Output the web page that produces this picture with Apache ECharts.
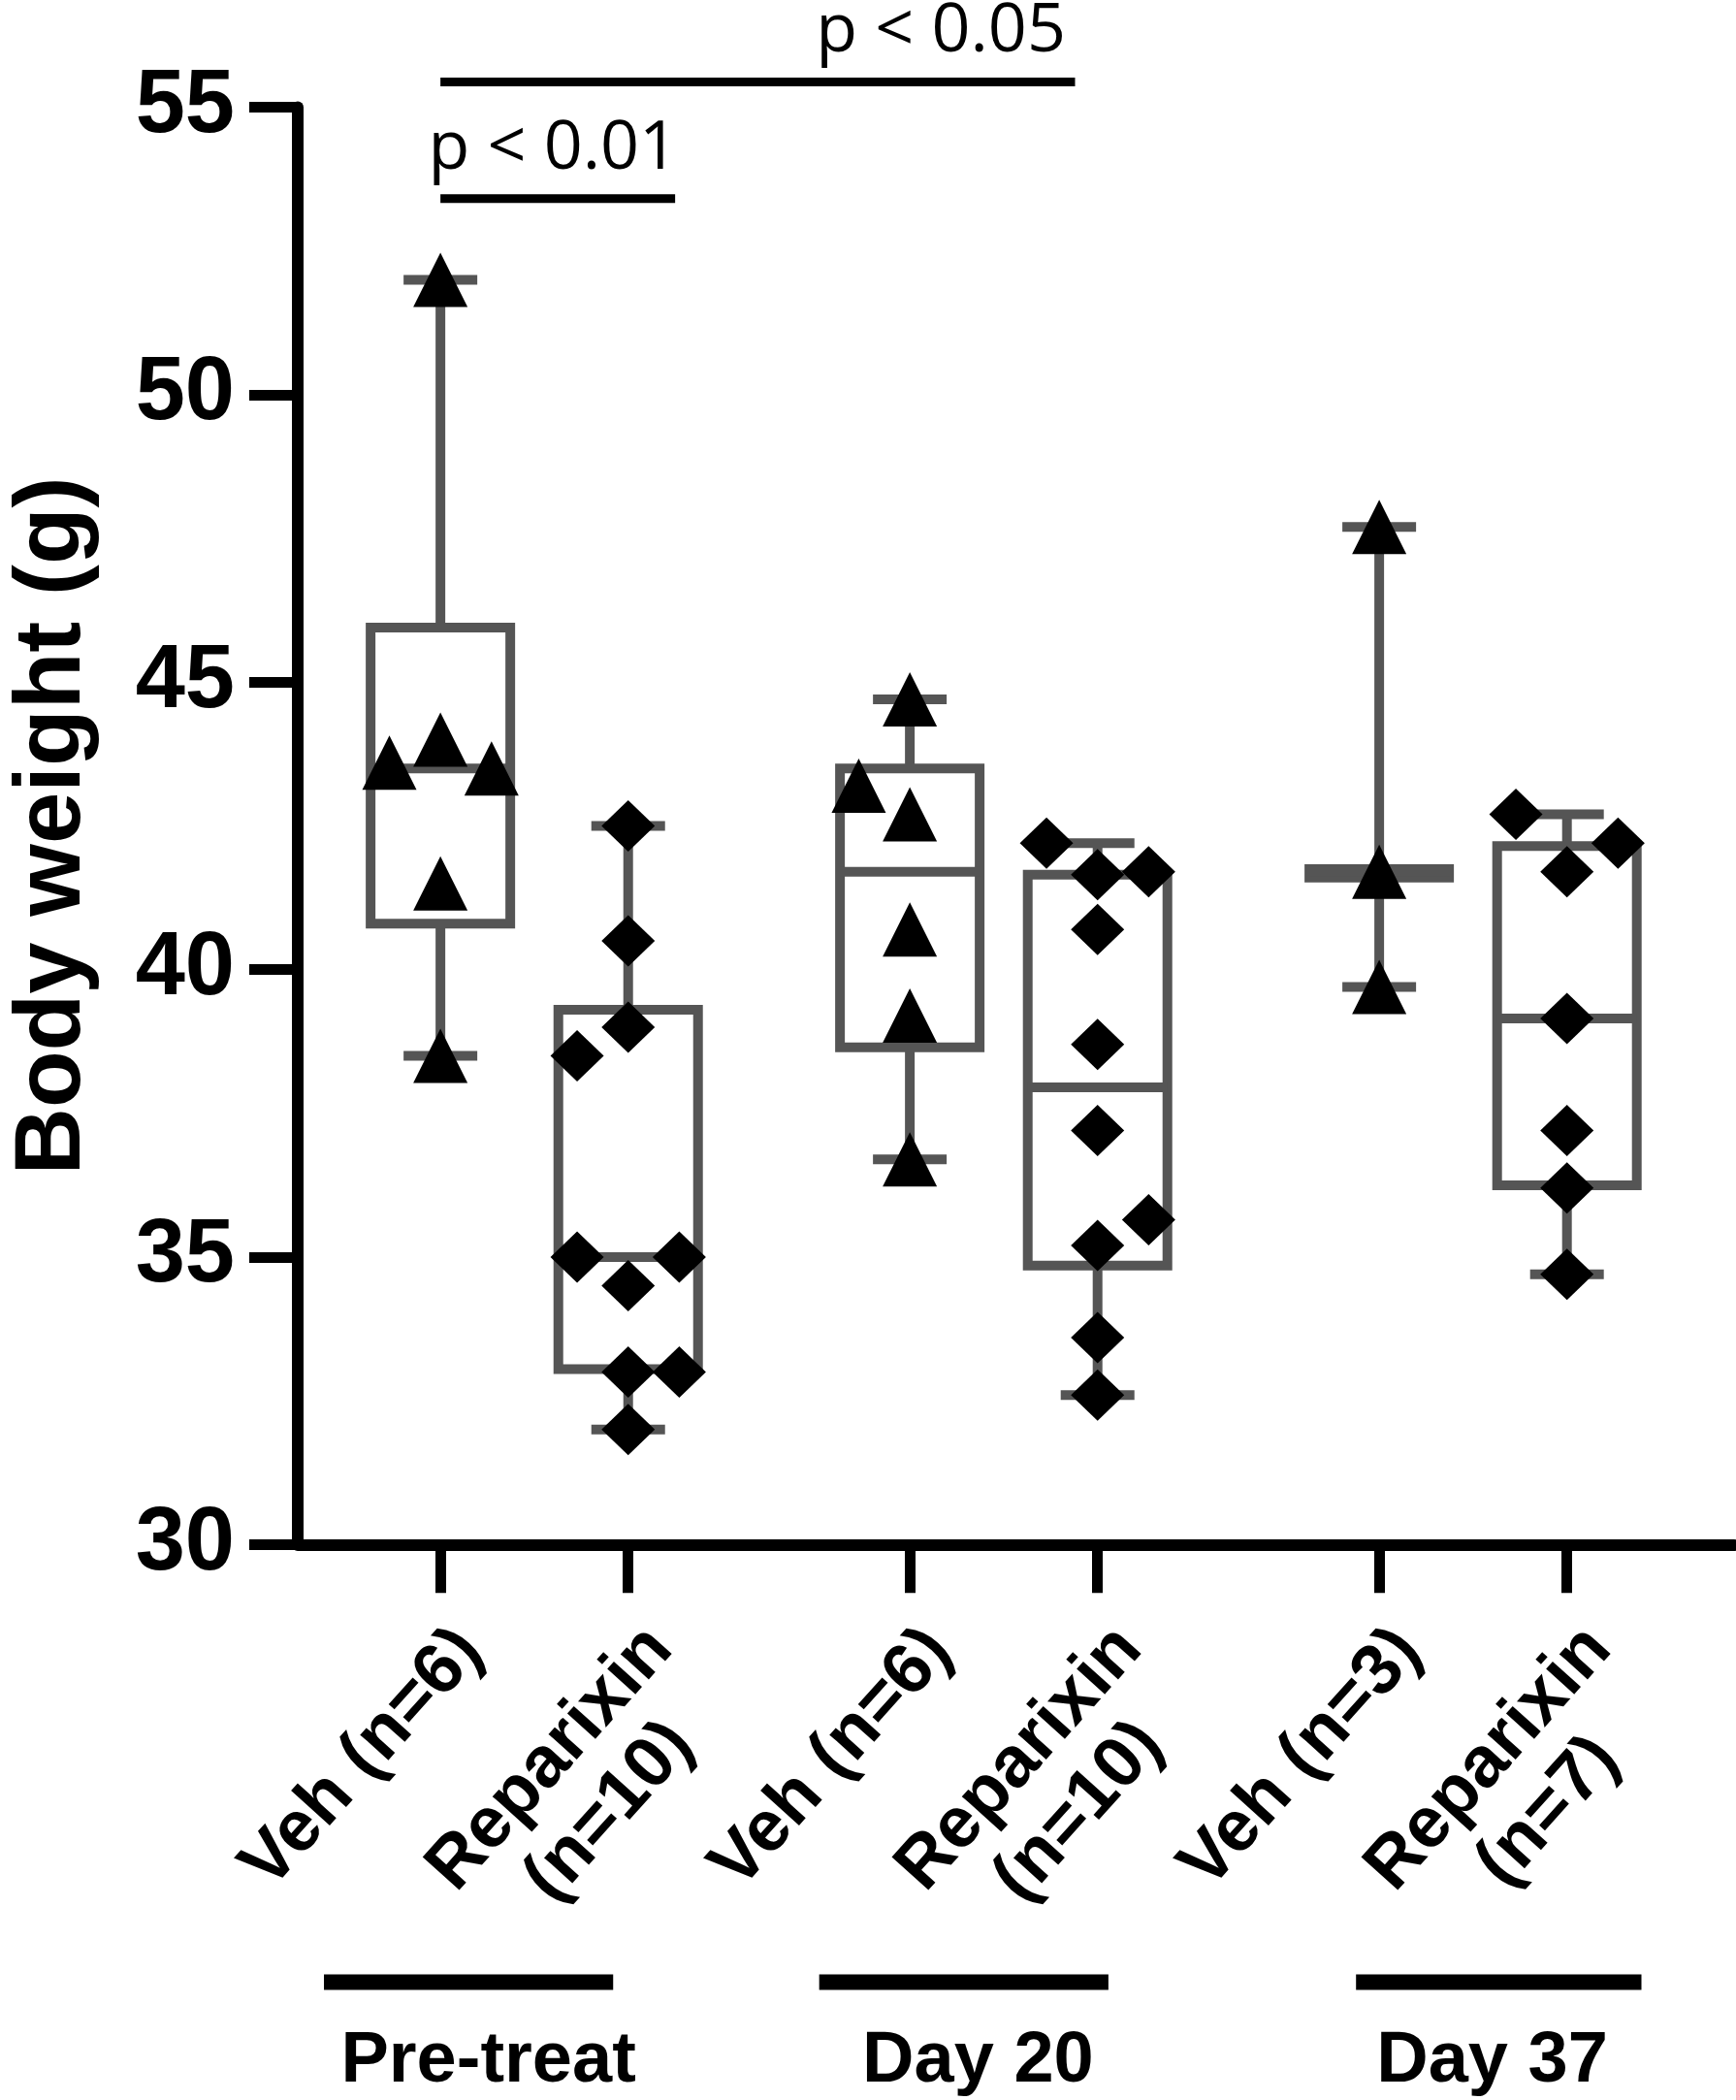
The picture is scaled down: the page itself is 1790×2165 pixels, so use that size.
<!DOCTYPE html>
<html>
<head>
<meta charset="utf-8">
<script src="https://cdn.jsdelivr.net/npm/echarts@6/dist/echarts.min.js"></script>
<style>
  html, body { margin: 0; padding: 0; background: #fff; }
  #chart { width: 1790px; height: 2165px; }
</style>
</head>
<body>
<div id="chart"></div>
<script>
// x position of each column (gaps between the three time points)
const positions = [0, 1, 2.5, 3.5, 5, 6];
const columnLabels = ['Veh (n=6)', 'Reparixin\n(n=10)', 'Veh (n=6)', 'Reparixin\n(n=10)', 'Veh (n=3)', 'Reparixin\n(n=7)'];
const yTicks = [30, 35, 40, 45, 50, 55];

// box & whisker (min..max, quartiles)
const boxLow    = [38.5, 32.0, 36.7, 32.6, 39.7, 34.7];
const boxQ1     = [40.8, 33.05, 38.65, 34.85, 41.6, 36.25];
const boxMedian = [43.5, 35.0, 41.7, 37.95, 41.7, 39.15];
const boxQ3     = [45.95, 39.3, 43.5, 41.65, 41.75, 42.15];
const boxHigh   = [52.0, 42.5, 44.7, 42.2, 47.7, 42.7];

// individual animals; side = -1 left / 0 centre / 1 right of column
const vehPre = [52.0, 44.0, 43.6, 43.5, 41.5, 38.5];
const vehPreSide = [0, 0, -1, 1, 0, 0];
const repPre = [42.5, 40.5, 39.0, 38.5, 35.0, 35.0, 34.5, 33.0, 33.0, 32.0];
const repPreSide = [0, 0, 0, -1, -1, 1, 0, 0, 1, 0];
const vehD20 = [44.7, 43.2, 42.7, 40.7, 39.2, 36.7];
const vehD20Side = [0, -1, 0, 0, 0, 0];
const repD20 = [42.2, 41.65, 41.7, 40.7, 38.7, 37.2, 35.65, 35.2, 33.6, 32.6];
const repD20Side = [-1, 0, 1, 0, 0, 0, 1, 0, 0, 0];
const vehD37 = [47.7, 41.7, 39.7];
const vehD37Side = [0, 0, 0];
const repD37 = [42.7, 42.2, 41.7, 39.15, 37.2, 36.2, 34.7];
const repD37Side = [-1, 1, 0, 0, 0, 0, 0];

// significance brackets
const sigText = ['p < 0.01', 'p < 0.05'];
const sigFrom = [0, 0];
const sigTo = [1.25, 3.38];
const sigLevel = [53.41, 55.44];
const sigTextX = [0.6, 2.665];

// time point groups under the axis
const groupNames = ['Pre-treat', 'Day 20', 'Day 37'];
const groupBarFrom = [-0.57, 2.05, 4.89];
const groupBarTo = [0.96, 3.58, 6.4];
const groupTextX = [0.3, 2.89, 5.61];

const X_MIN = -0.76, X_MAX = 6.89;
const SPREAD = 0.272;
const GREY = '#555';

const pts = (vals, side, col) => vals.map((v, i) => [positions[col] + side[i] * SPREAD, v]);

const boxData = positions.map((p, i) => [p, boxLow[i], boxQ1[i], boxMedian[i], boxQ3[i], boxHigh[i]]);

function renderBox(params, api) {
  const x = api.value(0);
  const lo = api.coord([x, api.value(1)]);
  const q1 = api.coord([x, api.value(2)]);
  const md = api.coord([x, api.value(3)]);
  const q3 = api.coord([x, api.value(4)]);
  const hi = api.coord([x, api.value(5)]);
  const half = 72, cap = 38;
  const st = { stroke: GREY, lineWidth: 10, fill: 'none' };
  const ln = (x1, y1, x2, y2) => ({ type: 'line', shape: { x1, y1, x2, y2 }, style: st });
  return {
    type: 'group',
    children: [
      ln(hi[0], hi[1], q3[0], q3[1]),
      ln(lo[0], lo[1], q1[0], q1[1]),
      ln(hi[0] - cap, hi[1], hi[0] + cap, hi[1]),
      ln(lo[0] - cap, lo[1], lo[0] + cap, lo[1]),
      { type: 'rect', shape: { x: q3[0] - half, y: q3[1], width: half * 2, height: q1[1] - q3[1] }, style: st },
      ln(md[0] - half, md[1], md[0] + half, md[1])
    ]
  };
}

const groupData = groupNames.map((n, i) => [groupBarFrom[i], groupBarTo[i], groupTextX[i]]);

function renderGroup(params, api) {
  const a = api.coord([api.value(0), 0.29]);
  const b = api.coord([api.value(1), 0.29]);
  const t = api.coord([api.value(2), 0.84]);
  return {
    type: 'group',
    children: [
      { type: 'line', shape: { x1: a[0], y1: a[1], x2: b[0], y2: b[1] }, style: { stroke: '#000', lineWidth: 16 } },
      { type: 'text', x: t[0], y: t[1], style: {
        text: groupNames[params.dataIndex], fill: '#000', align: 'center', verticalAlign: 'middle',
        font: 'bold 74px "Liberation Sans", Arial, sans-serif' } }
    ]
  };
}

const tri = { type: 'scatter', symbol: 'triangle', symbolSize: [56, 56], itemStyle: { color: '#000', opacity: 1 }, z: 5 };
const dia = { type: 'scatter', symbol: 'diamond', symbolSize: [55, 53], itemStyle: { color: '#000', opacity: 1 }, z: 5 };

const sigSeries = sigText.map((t, i) => ({
  type: 'line', clip: false, symbol: 'none', silent: true,
  lineStyle: { color: '#000', width: 9, opacity: 1 },
  data: [[sigFrom[i], sigLevel[i]], [sigTo[i], sigLevel[i]]]
}));

const chart = echarts.init(document.getElementById('chart'));
chart.setOption({
  backgroundColor: '#fff',
  animation: false,
  grid: [
    { left: 297, right: 2, top: 110.6, bottom: 572.7 },
    { left: 297, right: 2, top: 2000, height: 150 }
  ],
  xAxis: [
    {
      type: 'value', gridIndex: 0, min: X_MIN, max: X_MAX,
      splitLine: { show: false },
      axisLine: { onZero: false, lineStyle: { color: '#000', width: 12 } },
      axisTick: { customValues: positions, length: 50, lineStyle: { color: '#000', width: 11 } },
      axisLabel: {
        customValues: positions, rotate: 48, align: 'right', verticalAlign: 'top', margin: 71,
        formatter: (v) => {
          const i = positions.indexOf(v);
          if (i < 0) return '';
          return columnLabels[i].split('\n').map((s) => '{a|' + s + '}').join('\n');
        },
        rich: { a: { width: 330, align: 'center', fontSize: 74, lineHeight: 82, fontWeight: 'bold',
          fontFamily: '"Liberation Sans", Arial, sans-serif', color: '#000' } }
      }
    },
    { type: 'value', gridIndex: 1, min: X_MIN, max: X_MAX, show: false }
  ],
  yAxis: [
    {
      type: 'value', gridIndex: 0, min: 30, max: 55, interval: 5,
      splitLine: { show: false },
      axisLine: { show: true, onZero: false, lineStyle: { color: '#000', width: 12 } },
      axisTick: { show: true, length: 50, lineStyle: { color: '#000', width: 11 } },
      axisLabel: {
        margin: 65, fontSize: 92, fontWeight: 'bold', color: '#000',
        fontFamily: '"Liberation Sans", Arial, sans-serif',
        customValues: yTicks
      },
      name: 'Body weight (g)', nameLocation: 'middle', nameRotate: 90, nameGap: 203,
      nameTextStyle: { fontSize: 96, fontWeight: 'bold', color: '#000', fontFamily: '"Liberation Sans", Arial, sans-serif' }
    },
    { type: 'value', gridIndex: 1, min: 0, max: 1, inverse: true, show: false }
  ],
  series: [
    { type: 'custom', renderItem: renderBox, data: boxData, z: 2, silent: true },
    Object.assign({ data: pts(vehPre, vehPreSide, 0) }, tri),
    Object.assign({ data: pts(repPre, repPreSide, 1) }, dia),
    Object.assign({ data: pts(vehD20, vehD20Side, 2) }, tri),
    Object.assign({ data: pts(repD20, repD20Side, 3) }, dia),
    Object.assign({ data: pts(vehD37, vehD37Side, 4) }, tri),
    Object.assign({ data: pts(repD37, repD37Side, 5) }, dia),
    ...sigSeries,
    {
      type: 'scatter', clip: false, symbolSize: 0, silent: true,
      itemStyle: { opacity: 1 },
      data: sigText.map((t, i) => [sigTextX[i], sigLevel[i], t]),
      label: {
        show: true, position: 'top', distance: 16, formatter: (p) => p.data[2],
        fontSize: 70, color: '#000', opacity: 1, fontFamily: '"Open Sans", "Liberation Sans", sans-serif'
      }
    },
    { type: 'custom', xAxisIndex: 1, yAxisIndex: 1, renderItem: renderGroup, data: groupData, silent: true }
  ]
});
</script>
</body>
</html>
